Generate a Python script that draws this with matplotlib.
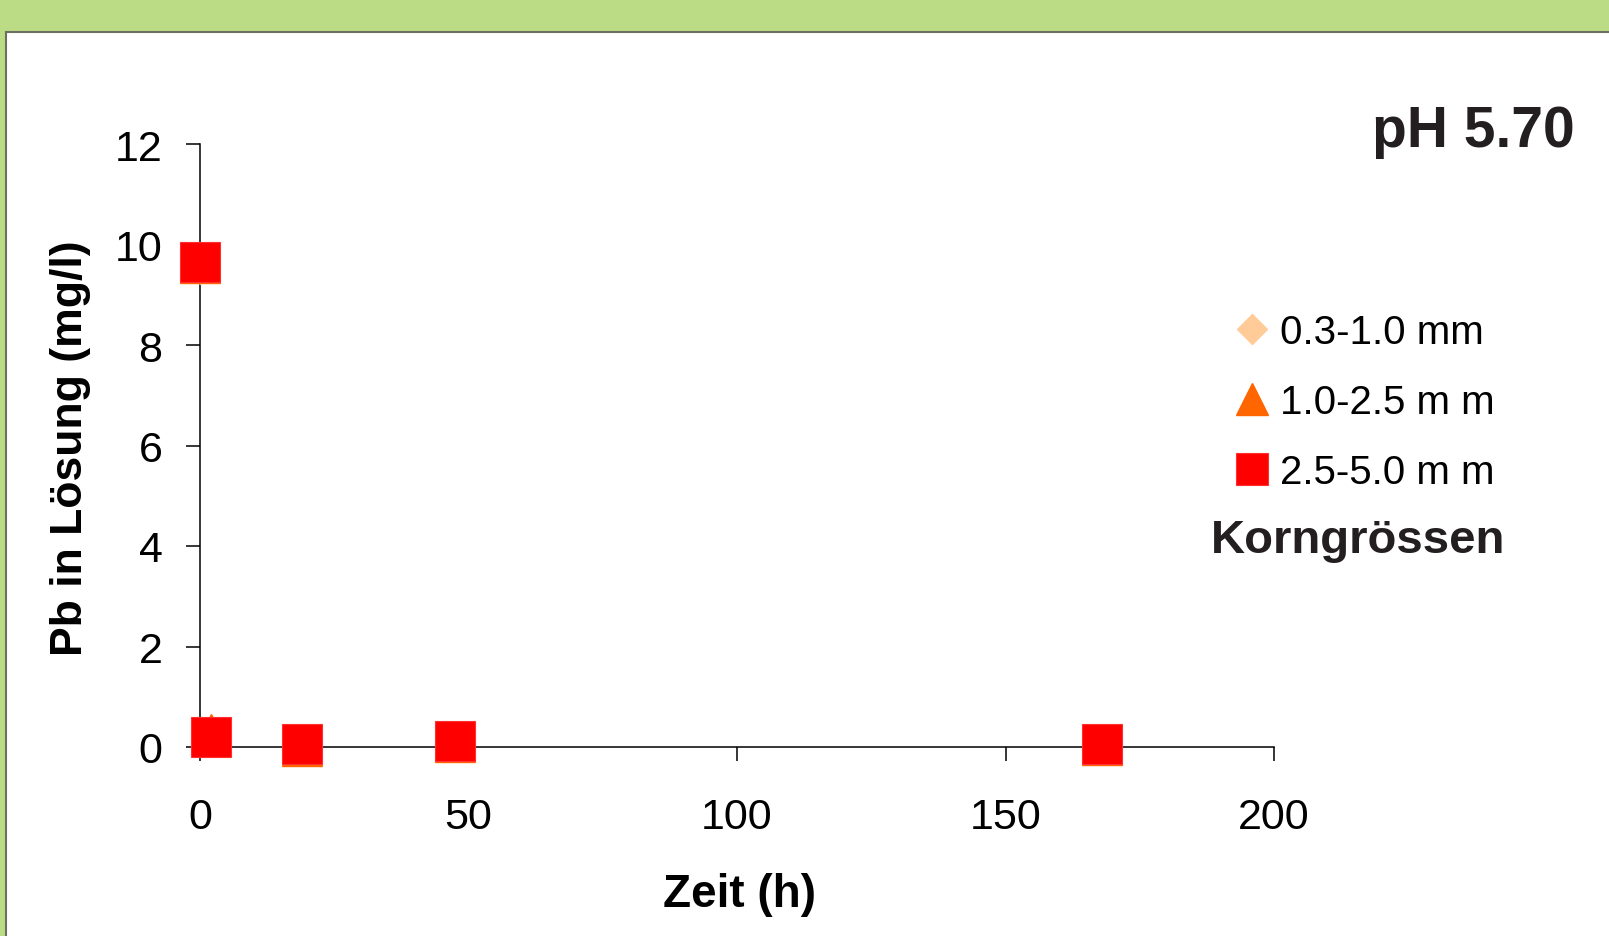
import matplotlib.pyplot as plt
from matplotlib.patches import Rectangle

plt.rcParams['font.family'] = ['Liberation Sans', 'DejaVu Sans']

# Pb in Lösung (mg/l) ueber die Zeit, je Korngroesse
zeit = [0, 2, 19, 47.5, 168]
pb_fein = [9.6, 0.2, 0.05, 0.1, 0.05]      # 0.3-1.0 mm
pb_mittel = [9.63, 0.26, 0.02, 0.1, 0.04]  # 1.0-2.5 mm
pb_grob = [9.66, 0.19, 0.05, 0.12, 0.05]   # 2.5-5.0 mm

labels = ['0.3-1.0 mm', '1.0-2.5 m m', '2.5-5.0 m m']
xticks = [0, 50, 100, 150, 200]
yticks = [0, 2, 4, 6, 8, 10, 12]

W, H = 1609, 937
fig = plt.figure(figsize=(W / 100, H / 100), dpi=100)
fig.patch.set_facecolor('#BBDC84')

# weisses Feld mit dunklem Rand
panel = Rectangle((6 / W, -0.05), 1.2, (H - 33) / H + 0.05, transform=fig.transFigure,
                  facecolor='white', edgecolor='#6B7060', linewidth=1.5, zorder=0)
fig.add_artist(panel)

ax = fig.add_axes([200 / W, 189 / H, 1074 / W, 603 / H])
ax.set_facecolor('none')

l1, = ax.plot(zeit, pb_fein, 'D', color='#FFCC99', ms=19, mec='#FFCC99', clip_on=False, zorder=3)
l2, = ax.plot(zeit, pb_mittel, '^', color='#FF6600', ms=28.8, mec='#FF6600', clip_on=False, zorder=4)
l3, = ax.plot(zeit, pb_grob, 's', color='#FF0000', ms=28.8, mec='#FF3030', mew=0.8, clip_on=False, zorder=5)

ax.set_xlim(0, 200)
ax.set_ylim(0, 12)
ax.set_xticks(xticks)
ax.set_yticks(yticks)
for s in ['top', 'right']:
    ax.spines[s].set_visible(False)
for s in ['left', 'bottom']:
    ax.spines[s].set_linewidth(1.1)
ax.tick_params(axis='both', direction='out', length=10, width=1.1, labelsize=31)
ax.tick_params(axis='y', pad=17)
ax.tick_params(axis='x', pad=26)

ax.set_xlabel('Zeit (h)', fontsize=33, fontweight='bold')
ax.set_ylabel('Pb in Lösung (mg/l)', fontsize=32, fontweight='bold')
ax.xaxis.label.set_va('center')
ax.yaxis.label.set_va('center')
ax.xaxis.set_label_coords(0.502, -0.243)
ax.yaxis.set_label_coords(-0.121, 0.4975)

fig.legend([l1, l2, l3], labels, loc='upper left', bbox_to_anchor=(1232 / W, 1 - 314 / H),
           frameon=False, fontsize=29, numpoints=1, markerscale=0.8, handlelength=1.0,
           handletextpad=0.2, labelspacing=0.8, borderpad=0, borderaxespad=0)

fig.text(1211 / W, 1 - 541 / H, 'Korngrössen', fontsize=34, fontweight='bold',
         color='#231F20', ha='left', va='center')
fig.text(1575 / W, 1 - 132 / H, 'pH 5.70', fontsize=41, fontweight='bold',
         color='#231F20', ha='right', va='center')

fig.savefig('out.png', dpi=100, facecolor=fig.get_facecolor())
